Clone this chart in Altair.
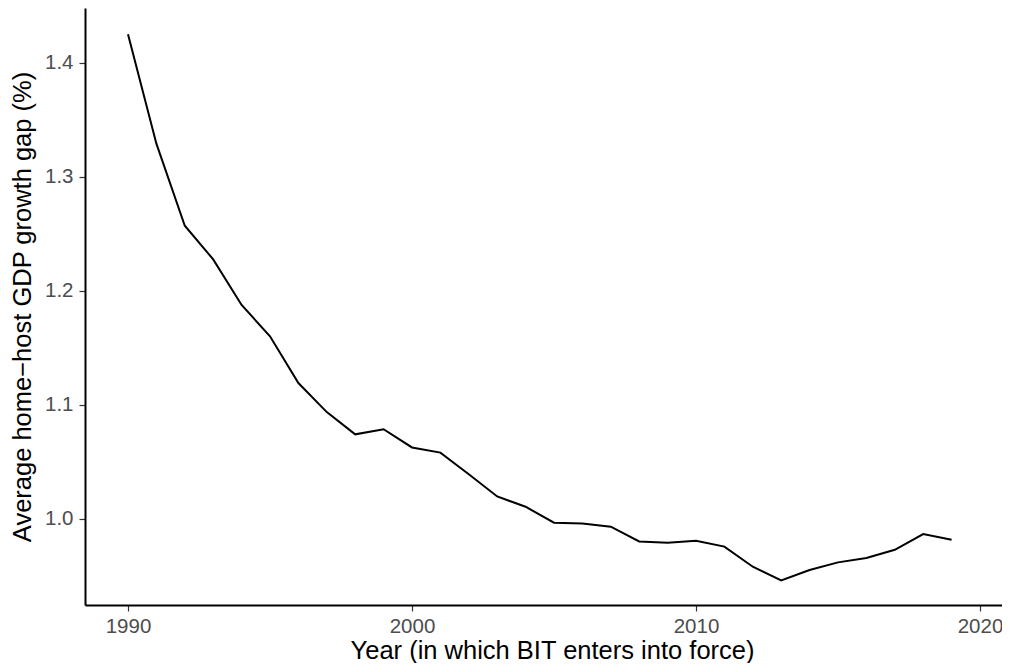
import altair as alt
import pandas as pd

years = list(range(1990, 2020))
gap = [1.425, 1.329, 1.257, 1.2275, 1.1875, 1.160, 1.119, 1.0935, 1.074, 1.0785,
       1.0625, 1.058, 1.039, 1.0195, 1.0105, 0.9965, 0.9958, 0.9930, 0.9800, 0.9790,
       0.9806, 0.9755, 0.9579, 0.9458, 0.9550, 0.9617, 0.9655, 0.9727, 0.9865, 0.9815]

df = pd.DataFrame({"year": years, "gap": gap})

x_ticks = [1990, 2000, 2010, 2020]
y_ticks = [1.0, 1.1, 1.2, 1.3, 1.4]

chart = alt.Chart(df).mark_line(color="black", strokeWidth=2, clip=True).encode(
    x=alt.X("year:Q",
            scale=alt.Scale(domain=[1988.486, 2020.775], nice=False, zero=False),
            axis=alt.Axis(values=x_ticks, format="d", title="Year (in which BIT enters into force)",
                          titleX=467, titleY=53, titleBaseline="alphabetic", titleAnchor="middle",
                          titleAlign="center", labelPadding=5)),
    y=alt.Y("gap:Q",
            scale=alt.Scale(domain=[0.9243, 1.448], nice=False, zero=False),
            axis=alt.Axis(values=y_ticks, format=".1f", title="Average home\u2212host GDP growth gap (%)",
                          titleX=-55, titleBaseline="alphabetic", titleAngle=270,
                          titleAlign="center")),
).properties(
    width=917, height=597,
    autosize=alt.AutoSizeParams(type="none"),
    padding={"left": 77, "top": 0, "right": 0, "bottom": 58},
).configure_view(stroke=None).configure_axis(
    grid=False,
    domainColor="black", domainWidth=2,
    tickColor="#333333", tickWidth=1.2, tickSize=6,
    labelFont="Liberation Sans", labelFontSize=20.5, labelColor="#4d4d4d", labelPadding=6,
    titleFont="Liberation Sans", titleFontSize=25.5, titleColor="black", titleFontWeight="normal",
)

chart.save("out.html", embed_options={"renderer": "svg", "actions": False})
